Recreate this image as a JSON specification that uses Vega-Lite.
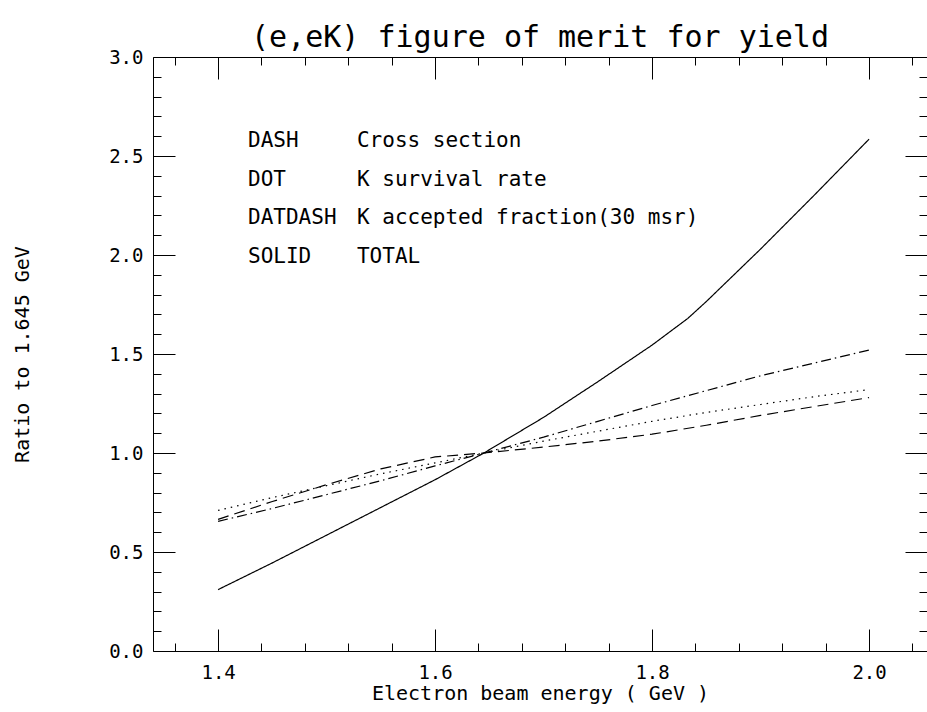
{
  "$schema": "https://vega.github.io/schema/vega-lite/v6.json",
  "width": 774,
  "height": 594,
  "autosize": {"type": "none"},
  "padding": {"left": 153, "top": 57, "right": 0, "bottom": 61},
  "background": "white",
  "title": {
    "text": "(e,eK) figure of merit for yield",
    "font": "DejaVu Sans Mono",
    "fontSize": 30,
    "fontWeight": "normal",
    "color": "black",
    "offset": -5,
    "anchor": "middle"
  },
  "config": {
    "view": {"stroke": "black", "strokeWidth": 1},
    "axis": {
      "grid": false,
      "domain": false,
      "tickColor": "black",
      "tickWidth": 1,
      "labelFont": "DejaVu Sans Mono",
      "labelFontSize": 19,
      "labelColor": "black",
      "titleFont": "DejaVu Sans Mono",
      "titleFontSize": 20,
      "titleFontWeight": "normal",
      "titleColor": "black"
    }
  },
  "datasets": {
    "curves": [
      {"series": "SOLID", "x": 1.40, "y": 0.31},
      {"series": "SOLID", "x": 1.45, "y": 0.445},
      {"series": "SOLID", "x": 1.50, "y": 0.585},
      {"series": "SOLID", "x": 1.55, "y": 0.725},
      {"series": "SOLID", "x": 1.60, "y": 0.865},
      {"series": "SOLID", "x": 1.645, "y": 1.0},
      {"series": "SOLID", "x": 1.70, "y": 1.18},
      {"series": "SOLID", "x": 1.75, "y": 1.36},
      {"series": "SOLID", "x": 1.80, "y": 1.545},
      {"series": "SOLID", "x": 1.833, "y": 1.68},
      {"series": "SOLID", "x": 1.85, "y": 1.765},
      {"series": "SOLID", "x": 1.90, "y": 2.03},
      {"series": "SOLID", "x": 1.95, "y": 2.305},
      {"series": "SOLID", "x": 2.00, "y": 2.585},
      {"series": "DATDASH", "x": 1.40, "y": 0.655},
      {"series": "DATDASH", "x": 1.45, "y": 0.72},
      {"series": "DATDASH", "x": 1.50, "y": 0.79},
      {"series": "DATDASH", "x": 1.55, "y": 0.86},
      {"series": "DATDASH", "x": 1.60, "y": 0.935},
      {"series": "DATDASH", "x": 1.645, "y": 1.0},
      {"series": "DATDASH", "x": 1.70, "y": 1.08},
      {"series": "DATDASH", "x": 1.75, "y": 1.16},
      {"series": "DATDASH", "x": 1.80, "y": 1.24},
      {"series": "DATDASH", "x": 1.85, "y": 1.315},
      {"series": "DATDASH", "x": 1.90, "y": 1.39},
      {"series": "DATDASH", "x": 1.95, "y": 1.455},
      {"series": "DATDASH", "x": 2.00, "y": 1.52},
      {"series": "DOT", "x": 1.40, "y": 0.71},
      {"series": "DOT", "x": 1.45, "y": 0.775},
      {"series": "DOT", "x": 1.50, "y": 0.835},
      {"series": "DOT", "x": 1.55, "y": 0.895},
      {"series": "DOT", "x": 1.60, "y": 0.95},
      {"series": "DOT", "x": 1.645, "y": 1.0},
      {"series": "DOT", "x": 1.70, "y": 1.06},
      {"series": "DOT", "x": 1.75, "y": 1.11},
      {"series": "DOT", "x": 1.80, "y": 1.16},
      {"series": "DOT", "x": 1.85, "y": 1.205},
      {"series": "DOT", "x": 1.90, "y": 1.245},
      {"series": "DOT", "x": 1.95, "y": 1.285},
      {"series": "DOT", "x": 2.00, "y": 1.32},
      {"series": "DASH", "x": 1.40, "y": 0.665},
      {"series": "DASH", "x": 1.45, "y": 0.755},
      {"series": "DASH", "x": 1.50, "y": 0.84},
      {"series": "DASH", "x": 1.55, "y": 0.92},
      {"series": "DASH", "x": 1.60, "y": 0.98},
      {"series": "DASH", "x": 1.645, "y": 1.0},
      {"series": "DASH", "x": 1.70, "y": 1.03},
      {"series": "DASH", "x": 1.75, "y": 1.06},
      {"series": "DASH", "x": 1.80, "y": 1.095},
      {"series": "DASH", "x": 1.85, "y": 1.14},
      {"series": "DASH", "x": 1.90, "y": 1.19},
      {"series": "DASH", "x": 1.95, "y": 1.235},
      {"series": "DASH", "x": 2.00, "y": 1.28}
    ],
    "legend": [
      {"key": "DASH", "desc": "Cross section", "ly": 2.576},
      {"key": "DOT", "desc": "K survival rate", "ly": 2.379},
      {"key": "DATDASH", "desc": "K accepted fraction(30 msr)", "ly": 2.187},
      {"key": "SOLID", "desc": "TOTAL", "ly": 1.99}
    ]
  },
  "resolve": {"axis": {"x": "independent", "y": "independent"}},
  "layer": [
    {
      "data": {"name": "curves"},
      "mark": {"type": "line", "color": "black", "strokeWidth": 1.2},
      "encoding": {
        "x": {
          "field": "x", "type": "quantitative",
          "scale": {"domain": [1.34, 2.0534], "nice": false, "zero": false},
          "axis": {
            "orient": "bottom", "values": [1.4, 1.6, 1.8, 2.0], "format": ".1f",
            "tickSize": -22, "labelPadding": 34,
            "title": "Electron beam energy ( GeV )", "titlePadding": 1
          }
        },
        "y": {
          "field": "y", "type": "quantitative",
          "scale": {"domain": [0, 3], "nice": false, "zero": false},
          "axis": {
            "orient": "left", "values": [0, 0.5, 1, 1.5, 2, 2.5, 3], "format": ".1f",
            "tickSize": -22, "labelPadding": 32,
            "title": "Ratio to 1.645 GeV", "titlePadding": 76
          }
        },
        "strokeDash": {
          "field": "series", "type": "nominal", "legend": null,
          "scale": {
            "domain": ["SOLID", "DATDASH", "DOT", "DASH"],
            "range": [[1, 0], [10, 4, 1.5, 4], [1.5, 5], [11, 6]]
          }
        }
      }
    },
    {
      "data": {"name": "curves"},
      "mark": {"type": "point", "opacity": 0},
      "encoding": {
        "x": {
          "field": "x", "type": "quantitative",
          "axis": {
            "orient": "bottom", "labels": false, "title": null, "tickSize": -8,
            "values": [1.36, 1.40, 1.44, 1.48, 1.52, 1.56, 1.60, 1.64, 1.68, 1.72, 1.76, 1.80, 1.84, 1.88, 1.92, 1.96, 2.00, 2.04]
          }
        },
        "y": {
          "field": "y", "type": "quantitative",
          "axis": {
            "orient": "left", "labels": false, "title": null, "tickSize": -8,
            "values": [0.1, 0.2, 0.3, 0.4, 0.6, 0.7, 0.8, 0.9, 1.1, 1.2, 1.3, 1.4, 1.6, 1.7, 1.8, 1.9, 2.1, 2.2, 2.3, 2.4, 2.6, 2.7, 2.8, 2.9]
          }
        }
      }
    },
    {
      "data": {"name": "curves"},
      "mark": {"type": "point", "opacity": 0},
      "encoding": {
        "x": {
          "field": "x", "type": "quantitative",
          "axis": {"orient": "top", "labels": false, "title": null, "tickSize": -22, "values": [1.4, 1.6, 1.8, 2.0]}
        },
        "y": {
          "field": "y", "type": "quantitative",
          "axis": {"orient": "right", "labels": false, "title": null, "tickSize": -22, "values": [0.5, 1, 1.5, 2, 2.5]}
        }
      }
    },
    {
      "data": {"name": "curves"},
      "mark": {"type": "point", "opacity": 0},
      "encoding": {
        "x": {
          "field": "x", "type": "quantitative",
          "axis": {
            "orient": "top", "labels": false, "title": null, "tickSize": -8,
            "values": [1.36, 1.40, 1.44, 1.48, 1.52, 1.56, 1.60, 1.64, 1.68, 1.72, 1.76, 1.80, 1.84, 1.88, 1.92, 1.96, 2.00, 2.04]
          }
        },
        "y": {
          "field": "y", "type": "quantitative",
          "axis": {
            "orient": "right", "labels": false, "title": null, "tickSize": -8,
            "values": [0.1, 0.2, 0.3, 0.4, 0.6, 0.7, 0.8, 0.9, 1.1, 1.2, 1.3, 1.4, 1.6, 1.7, 1.8, 1.9, 2.1, 2.2, 2.3, 2.4, 2.6, 2.7, 2.8, 2.9]
          }
        }
      }
    },
    {
      "data": {"name": "legend"},
      "mark": {"type": "text", "align": "left", "baseline": "middle", "font": "DejaVu Sans Mono", "fontSize": 21, "color": "black"},
      "encoding": {
        "x": {"datum": 1.4276, "type": "quantitative", "axis": null},
        "y": {"field": "ly", "type": "quantitative", "axis": null},
        "text": {"field": "key"}
      }
    },
    {
      "data": {"name": "legend"},
      "mark": {"type": "text", "align": "left", "baseline": "middle", "font": "DejaVu Sans Mono", "fontSize": 21, "color": "black"},
      "encoding": {
        "x": {"datum": 1.528, "type": "quantitative", "axis": null},
        "y": {"field": "ly", "type": "quantitative", "axis": null},
        "text": {"field": "desc"}
      }
    }
  ]
}
